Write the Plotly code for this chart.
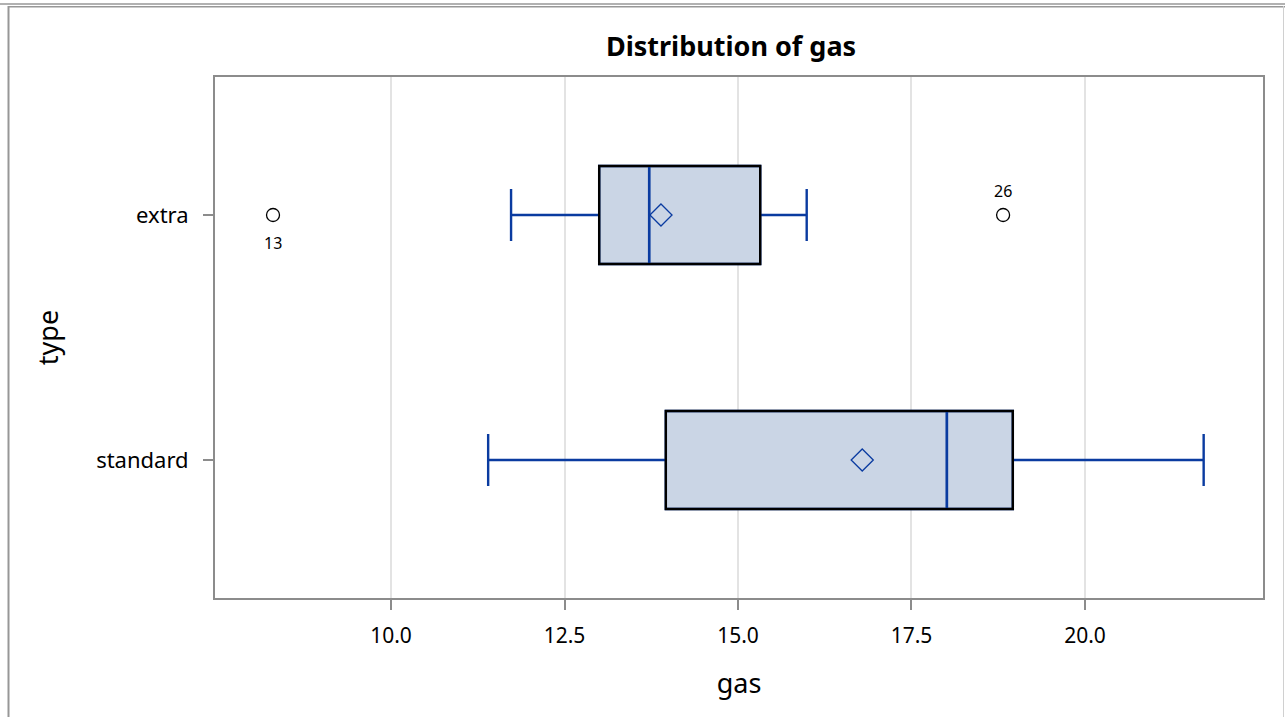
import plotly.graph_objects as go

# ---- data ----
types = ["standard", "extra"]
q1 = [13.96, 13.00]
median = [18.01, 13.72]
q3 = [18.96, 15.32]
lower_whisker = [11.40, 11.73]
upper_whisker = [21.71, 15.99]
means = [16.79, 13.89]

outlier_type = ["extra", "extra"]
outlier_gas = [8.30, 18.82]
outlier_id = ["13", "26"]
outlier_label_shift = [-28, 24]

tick_vals = [10.0, 12.5, 15.0, 17.5, 20.0]
tick_text = ["10.0", "12.5", "15.0", "17.5", "20.0"]

BLUE = "#0a3ba0"
FILL = "#cad5e5"
FONT = "Noto Sans"

W, H = 1285, 717
ML, MR, MT, MB = 215, 22, 77, 119

fig = go.Figure()

fig.add_trace(go.Box(
    y=types, orientation="h",
    q1=q1, median=median, q3=q3,
    lowerfence=lower_whisker, upperfence=upper_whisker,
    fillcolor=FILL, line=dict(color=BLUE, width=2.4),
    width=0.4, whiskerwidth=0.53, boxpoints=False,
    hoverinfo="skip", showlegend=False,
))

fig.add_trace(go.Scatter(
    x=means, y=types, mode="markers",
    marker=dict(symbol="diamond-open", size=17, color=BLUE, line=dict(width=1.3, color=BLUE)),
    showlegend=False,
))

fig.add_trace(go.Scatter(
    x=outlier_gas, y=outlier_type, mode="markers",
    marker=dict(symbol="circle-open", size=13, color="#000", line=dict(width=1.3, color="#000")),
    showlegend=False,
))

annotations = []
for xg, t, lab, sh in zip(outlier_gas, outlier_type, outlier_id, outlier_label_shift):
    annotations.append(dict(x=xg, y=t, xref="x", yref="y", text=lab, showarrow=False,
                            yshift=sh, font=dict(family=FONT, size=16, color="#000")))

shapes = []
# black box outlines drawn over the blue ones
for i, t in enumerate(types):
    idx = types.index(t)
    shapes.append(dict(type="rect", xref="x", yref="y",
                       x0=q1[i], x1=q3[i], y0=idx - 0.2, y1=idx + 0.2,
                       line=dict(color="#000", width=2.4), fillcolor="rgba(0,0,0,0)", layer="above"))
for i, t in enumerate(types):
    idx = types.index(t)
    shapes.append(dict(type="line", xref="x", yref="y",
                       x0=median[i], x1=median[i], y0=idx - 0.195, y1=idx + 0.195,
                       line=dict(color=BLUE, width=2.4), layer="above"))

# outer frame of the image
def px(xp):
    return (xp - ML) / (W - ML - MR)

def py(yp):
    return 1 - (yp - MT) / (H - MT - MB)

GRAY = "#979797"
shapes.append(dict(type="line", xref="paper", yref="paper", x0=px(0), x1=px(W), y0=py(4), y1=py(4),
                   line=dict(color=GRAY, width=1.5)))
shapes.append(dict(type="line", xref="paper", yref="paper", x0=px(8.5), x1=px(W), y0=py(6.8), y1=py(6.8),
                   line=dict(color=GRAY, width=1.5)))
shapes.append(dict(type="line", xref="paper", yref="paper", x0=px(8.5), x1=px(8.5), y0=py(6), y1=py(H),
                   line=dict(color=GRAY, width=2)))
shapes.append(dict(type="line", xref="paper", yref="paper", x0=px(1283.5), x1=px(1283.5), y0=py(6), y1=py(H),
                   line=dict(color="#d0d0d0", width=1)))

fig.update_layout(
    width=W, height=H,
    margin=dict(l=ML, r=MR, t=MT, b=MB),
    paper_bgcolor="white", plot_bgcolor="white",
    font=dict(family=FONT, color="#000"),
    title=dict(text="<b>Distribution of gas</b>", x=(731 - ML) / (W - ML - MR), xref="paper",
               xanchor="center", y=1 - 47 / H, yanchor="middle",
               font=dict(family=FONT, size=27, color="#000")),
    shapes=shapes,
    annotations=annotations,
    showlegend=False,
)

fig.update_xaxes(
    range=[7.464, 22.565], tickvals=tick_vals, ticktext=tick_text,
    showgrid=True, gridcolor="#e3e3e3", gridwidth=2,
    showline=True, linecolor="#8c8c8c", linewidth=2, mirror=True,
    ticks="outside", ticklen=10, tickwidth=2, tickcolor="#8c8c8c",
    ticklabelstandoff=8,
    tickfont=dict(family=FONT, size=21, color="#000"),
    title=dict(text="gas", font=dict(family=FONT, size=27, color="#000"), standoff=26),
    zeroline=False,
)
fig.update_yaxes(
    type="category", categoryorder="array", categoryarray=types,
    range=[-0.5633, 1.5633],
    showgrid=False,
    showline=True, linecolor="#8c8c8c", linewidth=2, mirror=True,
    ticks="outside", ticklen=10, tickwidth=2, tickcolor="#8c8c8c",
    ticklabelstandoff=10,
    tickfont=dict(family=FONT, size=22, color="#000"),
    title=dict(text="type", font=dict(family=FONT, size=27, color="#000"), standoff=30),
)

fig.write_html("out.html", config={"displayModeBar": False},
               post_script="document.body.style.margin='0';document.body.style.padding='0';")
